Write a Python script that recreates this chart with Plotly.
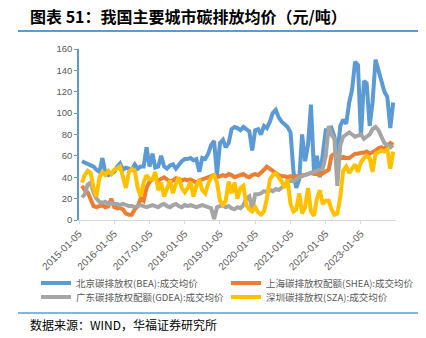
import pandas as pd
import plotly.graph_objects as go

# Monthly dates from 2015-01 to 2023-11
dates = pd.date_range("2015-01-05", periods=107, freq="MS") + pd.Timedelta(days=4)

bea = [
    55, 54, 53, 52, 50, 47, 45, 58, 44, 42, 43, 45,
    50, 53, 47, 49, 48, 47, 52, 48, 50, 50, 68, 50,
    62, 49, 50, 60, 50, 48, 51, 52, 48, 52, 55, 57,
    57, 58, 56, 57, 45, 58, 57, 62, 70, 74, 42, 72,
    75, 68, 72, 85, 87, 86, 84, 87, 85, 83, 65, 84,
    85, 80, 88, 86, 92, 100, 103, 96, 92, 90, 87, 82,
    45, 30, 38, 80, 55, 70, 108, 45, 60, 40, 65, 84,
    84, 86, 78, 60, 88, 94, 90, 110, 122, 148, 145, 78,
    130, 128, 88, 110, 150, 140, 128, 120, 115, 86, 110,
]
shea = [
    32, 28, 26, 20, 13, 12, 13, 14, 12, 13, 20, 12,
    11, 11, 10, 6, 5, 5, 10, 13, 20, 18, 30, 36,
    38, 39, 37, 38, 40, 38, 36, 37, 39, 38, 37, 38,
    37, 38, 36, 35, 37, 38, 39, 40, 41, 42, 40, 41,
    42, 41, 43, 42, 40, 41, 42, 43, 41, 40, 42, 43,
    42, 44, 47, 50, 48, 46, 43, 42, 41, 41, 40, 41,
    40, 41, 40, 42, 42, 43, 44, 43, 43, 42, 44, 45,
    47, 60, 62, 60, 58, 59, 58, 58, 60, 62, 62, 63,
    63, 64, 62, 63, 65, 67, 68, 66, 70, 72, 70,
]
gdea = [
    21, 24, 33, 35, 26, 20, 17, 16, 17, 15, 16, 15,
    15, 14, 15, 14, 13, 13, 12, 13, 14, 13, 12, 13,
    14, 13, 12, 14, 15, 13, 12, 14, 15, 13, 12, 14,
    13, 14, 13, 12, 13, 14, 13, 12, 11, 1, 12, 13,
    14, 12, 13, 11, 10, 12, 11, 14, 20, 22, 10, 24,
    24, 25, 27, 26, 28, 27, 29, 28, 30, 33, 35, 37,
    36, 38, 40, 41, 42, 43, 44, 45, 46, 47, 48, 60,
    88, 80, 76, 32, 70, 78, 80, 82, 80, 78, 79, 80,
    76, 78, 80, 85, 87, 84, 78, 72, 70, 68, 70,
]
sza = [
    35, 42, 46, 44, 30, 22, 40, 45, 42, 46, 43, 47,
    48, 50, 40, 30, 45, 48, 46, 30, 22, 35, 42, 38,
    38, 45, 28, 35, 22, 30, 37, 25, 34, 40, 30, 26,
    30, 36, 22, 32, 38, 28, 25, 34, 40, 42, 35, 18,
    14, 18, 36, 25, 35, 20, 30, 32, 14, 10, 8, 12,
    7, 5, 8, 20, 38, 42, 44, 40, 36, 30, 38, 15,
    8, 10, 25, 6, 12, 30, 8, 4, 20, 28, 15, 18,
    18, 10, 5, 6, 22, 46, 50, 44, 48, 52, 45, 54,
    58, 60, 58, 45, 62, 63, 65, 64, 66, 48, 64,
]

names = [
    "北京碳排放权(BEA):成交均价",
    "上海碳排放权配额(SHEA):成交均价",
    "广东碳排放权配额(GDEA):成交均价",
    "深圳碳排放权(SZA):成交均价",
]
colors = ["#5B9BD5", "#ED7D31", "#A5A5A5", "#FFC000"]
series = [bea, shea, gdea, sza]
legend_ids = ["legend", "legend2", "legend3", "legend4"]

tick_labels = [f"{y}-01-05" for y in range(2015, 2024)]
y_ticks = list(range(0, 161, 20))

fig = go.Figure()
for nm, col, vals, lg in zip(names, colors, series, legend_ids):
    fig.add_trace(go.Scatter(x=dates, y=vals, mode="lines", name=nm, legend=lg,
                             line=dict(color=col, width=4)))

CJK = "Noto Sans CJK SC"
PL, PT, PW, PH = 79, 49, 317, 171


def px(x):
    return (x - PL) / PW


def py(y):
    return (PT + PH - y) / PH


leg_font = dict(family=CJK, size=9.5, color="#595959")
leg_pos = [(36, 283), (226, 283), (36, 297), (226, 297)]
legends = {}
for lg, (lx, ly) in zip(legend_ids, leg_pos):
    legends[lg] = dict(x=px(lx), y=py(ly), xanchor="left", yanchor="middle",
                       orientation="v", font=leg_font, bgcolor="rgba(0,0,0,0)",
                       itemwidth=30)

fig.update_layout(
    width=426, height=338,
    margin=dict(l=PL, r=426 - PL - PW, t=PT, b=338 - PT - PH, autoexpand=False),
    paper_bgcolor="white", plot_bgcolor="white",
    font=dict(family=CJK, color="#595959", size=9),
    showlegend=True,
    xaxis=dict(type="date", range=["2015-01-05", "2024-01-03"], automargin=False,
               tickvals=tick_labels, ticktext=tick_labels, tickangle=-45,
               showgrid=False, showline=True, linecolor="#D9D9D9", linewidth=1,
               ticks="outside", ticklen=3, tickcolor="#D9D9D9",
               tickfont=dict(family="Liberation Sans, Arial", size=10, color="#595959"),
               zeroline=False),
    yaxis=dict(range=[0, 160], tickvals=y_ticks, showgrid=False, automargin=False,
               showline=True, linecolor="#5B9BD5", linewidth=1.5,
               ticks="outside", ticklen=3, tickcolor="#5B9BD5",
               tickfont=dict(family="Liberation Sans, Arial", size=9.5, color="#595959"),
               zeroline=False),
    **legends,
)

fig.add_annotation(text="<b>图表 51：我国主要城市碳排放均价（元/吨）</b>",
                   xref="paper", yref="paper", x=px(28), y=py(16),
                   xanchor="left", yanchor="middle", showarrow=False,
                   font=dict(family=CJK, size=16, color="#000000"))
fig.add_shape(type="line", xref="paper", yref="paper",
              x0=px(18), x1=px(418), y0=py(31), y1=py(31),
              line=dict(color="#5B9BD5", width=2))
fig.add_shape(type="line", xref="paper", yref="paper",
              x0=px(18), x1=px(418), y0=py(313), y1=py(313),
              line=dict(color="#5B9BD5", width=1.5))
fig.add_annotation(text="数据来源：WIND，华福证券研究所",
                   xref="paper", yref="paper", x=px(28), y=py(324),
                   xanchor="left", yanchor="middle", showarrow=False,
                   font=dict(family=CJK, size=12, color="#000000"))

fig.write_html("out.html")
